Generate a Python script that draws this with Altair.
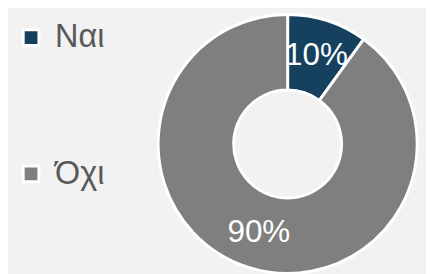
import altair as alt
import pandas as pd

categories = ["Ναι", "Όχι"]
values = [10, 90]
labels = ["10%", "90%"]
order = [0, 1]
colors = ["#15415f", "#7f7f7f"]

df = pd.DataFrame({"cat": categories, "val": values, "label": labels, "ord": order})

FONT = "Liberation Sans"

base = alt.Chart(df).encode(
    theta=alt.Theta("val:Q", stack=True),
    order=alt.Order("ord:Q"),
)

arc = base.mark_arc(outerRadius=132, innerRadius=55, stroke="white", strokeWidth=3).encode(
    x=alt.value(285),
    y=alt.value(136),
    color=alt.Color(
        "cat:N",
        scale=alt.Scale(domain=categories, range=colors),
        sort=categories,
        legend=alt.Legend(
            title=None,
            orient="none",
            legendX=7,
            legendY=11,
            symbolType="square",
            symbolSize=256,
            symbolStrokeColor="white",
            symbolStrokeWidth=3,
            symbolOpacity=1,
            labelFontSize=33,
            labelFont=FONT,
            labelColor="#595959",
            labelOffset=8,
            rowPadding=105,
            padding=0,
        ),
    ),
)

text = base.mark_text(
    radius=95, fontSize=32, font=FONT, color="white"
).encode(
    x=alt.value(285),
    y=alt.value(136),
    text="label:N",
)

chart = (
    alt.layer(arc, text)
    .properties(
        width=426,
        height=270,
        padding=0,
        autosize=alt.AutoSizeParams(type="none"),
        background="#f2f2f2",
    )
    .configure_view(stroke=None)
)

chart.save("out.html", embed_options={"renderer": "svg", "actions": False})
